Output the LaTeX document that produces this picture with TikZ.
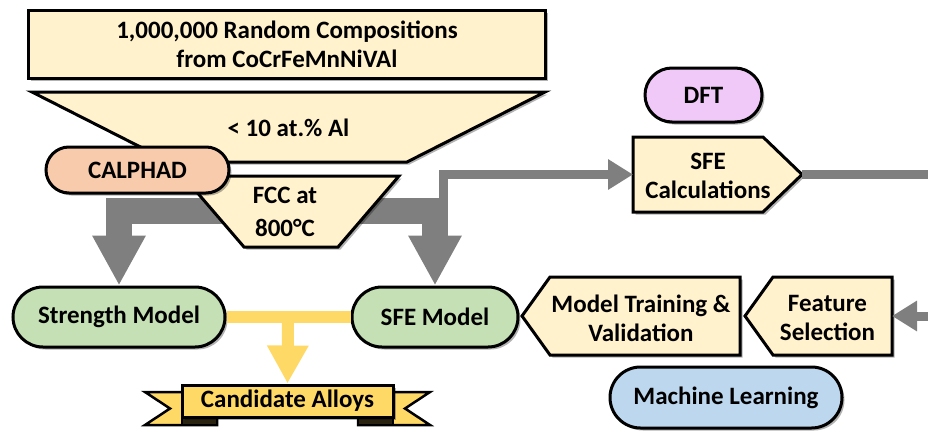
\documentclass[tikz,border=0pt]{standalone}
\usepackage{fontspec}
\setmainfont{Carlito}
\usetikzlibrary{arrows.meta,shadows,shapes.misc}
\definecolor{cream}{HTML}{FFF2CC}
\definecolor{calph}{HTML}{F8CBAD}
\definecolor{dftc}{HTML}{F0C9F8}
\definecolor{greenc}{HTML}{C5E0B4}
\definecolor{bluec}{HTML}{BDD7EE}
\definecolor{ylw}{HTML}{FFD966}
\definecolor{ylwdark}{HTML}{2A2310}
\definecolor{grayc}{HTML}{7F7F7F}
\begin{document}
\begin{tikzpicture}[x=1pt,y=-1pt,
  txt/.style={font=\bfseries\fontsize{25}{29}\selectfont, align=center, inner sep=0pt, text=black},
  bx/.style={txt, draw=black, line width=3pt},
  pill/.style={bx, rounded rectangle},
  shd/.style={drop shadow={shadow xshift=2.5pt, shadow yshift=-2.5pt, opacity=0.3, fill=black}},
  shp/.style={draw=black, line width=3pt, shd},
  gbig/.style={draw=grayc, line width=26pt, {Triangle[length=50pt,width=50pt]}-{Triangle[length=50pt,width=50pt]}},
  gthin/.style={draw=grayc, line width=9pt, -{Triangle[length=25pt,width=29pt]}},
  ybar/.style={draw=ylw, line width=12pt},
  ribbon/.style={draw=black, line width=2.5pt, fill=ylw},
]
\useasboundingbox (0,0) rectangle (928,431);

% model nodes
\node[pill, fill=greenc, minimum width=212pt, minimum height=60pt, shd] (strength) at (119,317) {Strength Model};
\node[pill, fill=greenc, minimum width=166pt, minimum height=60pt, shd] (sfemodel) at (435,317) {SFE Model};

% SFE calculations
\filldraw[shp, fill=cream] (633,137) -- (763,137) -- (802,174.5) -- (763,212) -- (633,212) -- cycle;
\coordinate (calcL) at (633,174.5);
\coordinate (calcR) at (802,174.5);
\node[txt] (sfecalc) at (708,176) {SFE\\Calculations};

% grey connectors
\coordinate (split) at (290,211);
\draw[gbig] (strength.north) |- (split) -| (sfemodel.north);
\coordinate (tap) at (443.5,211);
\draw[gthin] (tap) |- (calcL);

% funnel
\node[bx, fill=cream, minimum width=517pt, minimum height=68pt, shd] (random) at (287,44) {1,000,000 Random Compositions\\from CoCrFeMnNiVAl};
\filldraw[shp, fill=cream] (32,92) -- (545,92) -- (407,162) -- (170,162) -- cycle;
\node[txt] (al) at (288.5,128) {< 10 at.\% Al};
\filldraw[shp, fill=cream] (183,176) -- (399,176) -- (338,247) -- (244,247) -- cycle;
\node[txt, font=\bfseries\fontsize{25}{33}\selectfont] (fcc) at (285,212) {FCC at\\800°C};
\node[pill, fill=calph, minimum width=183pt, minimum height=46pt, shd] (calphad) at (137.5,170) {CALPHAD};

% DFT
\node[pill, fill=dftc, minimum width=117pt, minimum height=54pt, shd] (dft) at (703.5,95) {DFT};

% machine learning chain
\filldraw[shp, fill=cream] (522,316) -- (550,277) -- (740,277) -- (740,355) -- (550,355) -- cycle;
\node[txt] (train) at (641,318) {Model Training \&\\Validation};
\filldraw[shp, fill=cream] (745,316) -- (773,277) -- (892,277) -- (892,355) -- (773,355) -- cycle;
\node[txt] (feat) at (827.5,318) {Feature\\Selection};
\coordinate (featR) at (892,316);
\coordinate (off1) at (960,174.5);
\draw[gthin] (calcR) -- (off1) |- (featR);
\node[pill, fill=bluec, minimum width=232pt, minimum height=61pt, shd] (ml) at (726,397.5) {Machine Learning};

% candidate alloys
\draw[ybar] (strength.east) -- (sfemodel.west);
\coordinate (ysplit) at (288,317);
\filldraw[ribbon] (190,392) -- (145,392) -- (170,408.5) -- (145,425) -- (217,425) -- (217,410) -- cycle;
\filldraw[ribbon] (385,392) -- (430,392) -- (405,408.5) -- (430,425) -- (358,425) -- (358,410) -- cycle;
\filldraw[ribbon, fill=ylwdark] (182,417) rectangle (217,425);
\filldraw[ribbon, fill=ylwdark] (358,417) rectangle (393,425);
\node[bx, fill=ylw, minimum width=211pt, minimum height=32pt, shd] (cand) at (287.5,401) {Candidate Alloys};
\draw[ybar, -{Triangle[length=38pt,width=39pt]}] (ysplit) -- (cand.north);
\end{tikzpicture}
\end{document}
